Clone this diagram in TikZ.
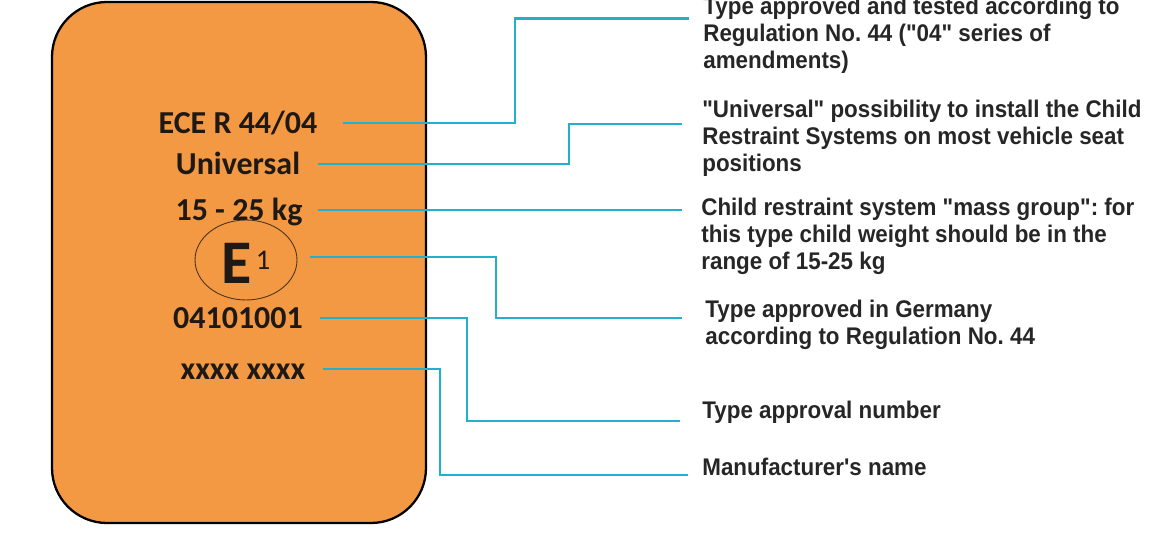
\documentclass[tikz,border=0pt]{standalone}
\usepackage{fontspec}
\usetikzlibrary{positioning}
\usetikzlibrary{shapes.geometric}
\newfontfamily\platefont{Carlito}
\newfontfamily\notefont[FakeStretch=0.93,Ligatures=TeXOff]{Liberation Sans}
\definecolor{seatorange}{RGB}{243,153,67}
\definecolor{leadcyan}{RGB}{34,176,204}
\definecolor{plateink}{RGB}{30,25,20}
\frenchspacing

\tikzset{
  card/.style={draw=black, line width=1.3pt, fill=seatorange, rounded corners=1.1cm},
  plate/.style={font=\platefont\bfseries\fontsize{18.2}{20}\selectfont, text=plateink,
    inner sep=0pt, text height=11.7pt, text depth=0pt},
  stampring/.style={ellipse, draw=plateink!80!seatorange, line width=0.5pt,
    minimum width=2.04cm, minimum height=1.6cm, inner sep=0pt},
  note/.style={font=\notefont\bfseries\fontsize{13.7}{15.4}\selectfont\frenchspacing, text=black!85,
    align=left, inner sep=0pt, anchor=base west},
  lead/.style={leadcyan, line width=1.7pt},
}

\begin{document}
\begin{tikzpicture}[x=0.02cm, y=-0.02cm]
\useasboundingbox (0,0) rectangle (1170,536);
\clip (0,0) rectangle (1170,536);

% the label
\draw[card] (52,2) rectangle (426,523);

\node[plate] (ece) at (238,123) {ECE R 44/04};
\node[plate] (univ) at (238,164) {Universal};
\node[plate] (mass) at (239,210) {15 - 25 kg};
\node[stampring] (stamp) at (246,260) {};
\node[text=plateink, font=\platefont\bfseries\fontsize{35.3}{36}\selectfont, inner sep=0pt] (ebig) at (237,263) {E};
\node[text=plateink, font=\platefont\fontsize{16.2}{17}\selectfont, inner sep=0pt] (eone) at (263,260) {1};
\node[plate] (apnum) at (238,318) {04101001};
\node[plate] (maker) at (243,369) {xxxx xxxx};

% the notes (base = last line)
\node[note] (d1) at (703,69) {Type approved and tested according to\\Regulation No. 44 ("04" series of\\amendments)};
\node[note] (d2) at (702,172) {"Universal" possibility to install the Child\\Restraint Systems on most vehicle seat\\positions};
\node[note] (d3) at (701,270) {Child restraint system "mass group": for\\this type child weight should be in the\\range of 15-25 kg};
\node[note] (d4) at (705,345) {Type approved in Germany\\according to Regulation No. 44};
\node[note] (d5) at (702,419) {Type approval number};
\node[note] (d6) at (702,476) {Manufacturer's name};

\coordinate (k1) at (515,19);  \coordinate (t1) at (689,19);
\coordinate (k2) at (569,124); \coordinate (t2) at (682,124);
\coordinate (t3) at (682,210);
\coordinate (k4) at (496,318); \coordinate (t4) at (682,318);
\coordinate (k5) at (467,421); \coordinate (t5) at (680,421);
\coordinate (k6) at (440,475); \coordinate (t6) at (688,475);

% leader lines
\draw[lead] ([xshift=0.5cm]ece.east) -| (k1) -- (t1);
\draw[lead] ([xshift=0.36cm]univ.east) -| (k2) -- (t2);
\draw[lead] ([xshift=0.3cm]mass.east) -- (t3);
\draw[lead] ([xshift=0.26cm,yshift=0.06cm]stamp.east) -| (k4) -- (t4);
\draw[lead] ([xshift=0.34cm]apnum.east) -| (k5) -- (t5);
\draw[lead] ([xshift=0.34cm]maker.east) -| (k6) -- (t6);

\end{tikzpicture}
\end{document}
